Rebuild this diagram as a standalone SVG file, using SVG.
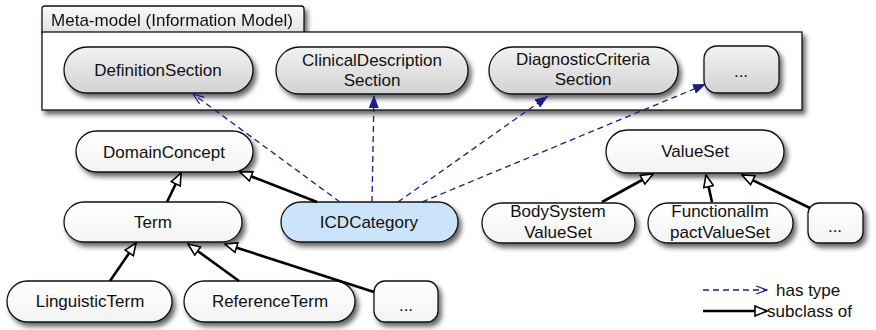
<svg xmlns="http://www.w3.org/2000/svg" width="876" height="330" viewBox="0 0 876 330">
  <defs>
    <style>
      text { font-family: "Liberation Sans", Arial, sans-serif; font-size: 17px; fill: #111; text-anchor: middle; }
      .node { stroke: #111; stroke-width: 1.3; }
      .meta { fill: url(#gGray); }
      .plain { fill: url(#gWhite); }
      .hl { fill: #cce4fb; }
      .frame { fill: #fff; stroke: #111; stroke-width: 1.3; }
      .tab { fill: url(#gTab); stroke: #111; stroke-width: 1.3; }
      .type { stroke: #1c1c8f; stroke-width: 1.3; stroke-dasharray: 6 4; fill: none; }
      .sub { stroke: #000; stroke-width: 2.6; fill: none; }
    </style>
    <linearGradient id="gGray" x1="0" y1="0" x2="0" y2="1">
      <stop offset="0" stop-color="#f2f2f2"/>
      <stop offset="1" stop-color="#d2d2d2"/>
    </linearGradient>
    <linearGradient id="gWhite" x1="0" y1="0" x2="0" y2="1">
      <stop offset="0" stop-color="#ffffff"/>
      <stop offset="1" stop-color="#f3f3f3"/>
    </linearGradient>
    <linearGradient id="gTab" x1="0" y1="0" x2="0" y2="1">
      <stop offset="0" stop-color="#fafafa"/>
      <stop offset="1" stop-color="#e2e2e2"/>
    </linearGradient>
    <filter id="shadow" x="-10%" y="-20%" width="130%" height="170%">
      <feDropShadow dx="3" dy="4" stdDeviation="2.5" flood-color="#000" flood-opacity="0.6"/>
    </filter>
    <marker id="tri" markerUnits="userSpaceOnUse" viewBox="0 0 14 12" refX="13" refY="6" markerWidth="14" markerHeight="12" orient="auto">
      <path d="M1,1 L13,6 L1,11 z" fill="#fff" stroke="#000" stroke-width="1.6"/>
    </marker>
    <marker id="fill" markerUnits="userSpaceOnUse" viewBox="0 0 13 10" refX="13" refY="5" markerWidth="13" markerHeight="10" orient="auto">
      <path d="M0,0 L13,5 L0,10 z" fill="#1c1c8f"/>
    </marker>
    <marker id="open" markerUnits="userSpaceOnUse" viewBox="0 0 13 10" refX="12" refY="5" markerWidth="13" markerHeight="10" orient="auto">
      <path d="M1,1 L12,5 L1,9" fill="none" stroke="#1c1c8f" stroke-width="1.3"/>
    </marker>
  </defs>

  <!-- information model package -->
  <g id="metamodel" filter="url(#shadow)">
    <path class="tab" d="M42,33 V9 Q42,6 45,6 H301 Q304,6 304,9 V33 z"/>
    <rect class="frame" x="42" y="32" width="760" height="78"/>
    <text x="172" y="26">Meta-model (Information Model)</text>
  </g>

  <g id="DefinitionSection">
    <rect class="node meta" x="64" y="47" width="189" height="46" rx="23" filter="url(#shadow)"/>
    <text x="158" y="76">DefinitionSection</text>
  </g>
  <g id="ClinicalDescriptionSection">
    <rect class="node meta" x="276" y="47" width="192" height="47" rx="23.5" filter="url(#shadow)"/>
    <text x="372" y="66">ClinicalDescription</text>
    <text x="372" y="86">Section</text>
  </g>
  <g id="DiagnosticCriteriaSection">
    <rect class="node meta" x="489" y="47" width="189" height="47" rx="23.5" filter="url(#shadow)"/>
    <text x="583" y="65">DiagnosticCriteria</text>
    <text x="583" y="85">Section</text>
  </g>
  <g id="MoreSections">
    <rect class="node meta" x="704" y="46" width="75" height="47" rx="13" filter="url(#shadow)"/>
    <text x="741" y="77">...</text>
  </g>

  <g id="DomainConcept">
    <rect class="node plain" x="76" y="131" width="177" height="41" rx="20.5" filter="url(#shadow)"/>
    <text x="164" y="158">DomainConcept</text>
  </g>
  <g id="Term">
    <rect class="node plain" x="64" y="202" width="178" height="40" rx="20" filter="url(#shadow)"/>
    <text x="153" y="228">Term</text>
  </g>
  <g id="ICDCategory">
    <rect class="node hl" x="281" y="202" width="177" height="40" rx="20" filter="url(#shadow)"/>
    <text x="369" y="228">ICDCategory</text>
  </g>
  <g id="ValueSet">
    <rect class="node plain" x="606" y="130" width="178" height="43" rx="21.5" filter="url(#shadow)"/>
    <text x="695" y="157">ValueSet</text>
  </g>
  <g id="BodySystemValueSet">
    <rect class="node plain" x="482" y="203" width="153" height="40" rx="20" filter="url(#shadow)"/>
    <text x="558" y="217">BodySystem</text>
    <text x="558" y="238">ValueSet</text>
  </g>
  <g id="FunctionalImpactValueSet">
    <rect class="node plain" x="648" y="203" width="145" height="40" rx="20" filter="url(#shadow)"/>
    <text x="720" y="217">FunctionalIm</text>
    <text x="720" y="238">pactValueSet</text>
  </g>
  <g id="MoreValueSets">
    <rect class="node plain" x="808" y="203" width="55" height="40" rx="11" filter="url(#shadow)"/>
    <text x="835" y="232">...</text>
  </g>
  <g id="LinguisticTerm">
    <rect class="node plain" x="7" y="281" width="165" height="41" rx="20.5" filter="url(#shadow)"/>
    <text x="90" y="307">LinguisticTerm</text>
  </g>
  <g id="ReferenceTerm">
    <rect class="node plain" x="184" y="281" width="171" height="41" rx="20.5" filter="url(#shadow)"/>
    <text x="270" y="307">ReferenceTerm</text>
  </g>
  <g id="MoreTerms">
    <rect class="node plain" x="374" y="281" width="64" height="41" rx="11" filter="url(#shadow)"/>
    <text x="406" y="311">...</text>
  </g>

  <!-- connectors -->
  <g id="connectors">
    <line class="type" x1="340" y1="202" x2="193" y2="94" marker-end="url(#open)"/>
    <line class="type" x1="372" y1="202" x2="374" y2="95" marker-end="url(#fill)"/>
    <line class="type" x1="398" y1="202" x2="548" y2="96" marker-end="url(#fill)"/>
    <line class="type" x1="422" y1="202" x2="706" y2="84" marker-end="url(#fill)"/>

    <line class="sub" x1="167" y1="202" x2="181" y2="173" marker-end="url(#tri)"/>
    <line class="sub" x1="317" y1="202" x2="240" y2="172" marker-end="url(#tri)"/>
    <line class="sub" x1="110" y1="281" x2="136" y2="243" marker-end="url(#tri)"/>
    <line class="sub" x1="239" y1="281" x2="188" y2="244" marker-end="url(#tri)"/>
    <line class="sub" x1="374" y1="292" x2="225" y2="244" marker-end="url(#tri)"/>
    <line class="sub" x1="602" y1="202" x2="653" y2="174" marker-end="url(#tri)"/>
    <line class="sub" x1="712" y1="202" x2="706" y2="175" marker-end="url(#tri)"/>
    <line class="sub" x1="810" y1="208" x2="742" y2="175" marker-end="url(#tri)"/>
  </g>

  <!-- legend -->
  <g id="legend">
    <line class="type" x1="703" y1="290" x2="767" y2="290" marker-end="url(#open)"/>
    <text x="776" y="296" style="text-anchor:start">has type</text>
    <line class="sub" x1="703" y1="311" x2="767" y2="311" marker-end="url(#tri)"/>
    <text x="767" y="317" style="text-anchor:start">subclass of</text>
  </g>
</svg>
